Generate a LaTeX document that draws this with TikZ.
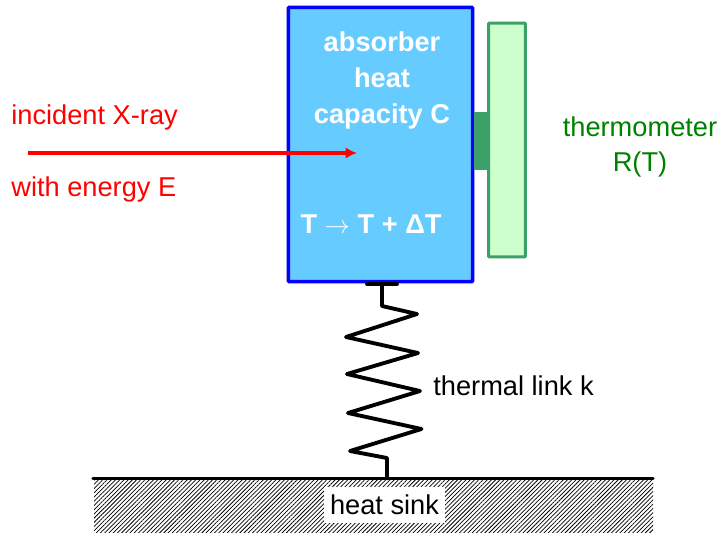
\documentclass[tikz,border=0pt]{standalone}
\usepackage{fontspec}
\setmainfont{Liberation Sans}
\usetikzlibrary{positioning}
\usetikzlibrary{arrows.meta}
\usetikzlibrary{patterns.meta}
\definecolor{absorberblue}{RGB}{102,204,255}
\definecolor{thermogreen}{RGB}{60,160,105}
\definecolor{thermolight}{RGB}{204,255,204}
\definecolor{labelgreen}{RGB}{0,128,0}
\tikzset{
  label text/.style={font=\fontsize{15.5pt}{19.5pt}\selectfont, inner sep=0pt, align=center},
  white text/.style={label text, text=white, font=\fontsize{15.5pt}{20.5pt}\selectfont\bfseries},
  spring line/.style={black, line width=2.2pt, line join=round, line cap=round}
}
\begin{document}
\begin{tikzpicture}[x=0.02cm, y=-0.02cm]
\useasboundingbox (0,0) rectangle (721,532);
%heat sink
\fill[pattern={Lines[angle=45,distance=1.7pt,line width=0.42pt]}, pattern color=black] (94,480) rectangle (653,532);
\coordinate (sinkleft) at (93,478.5);
\coordinate (sinkright) at (653,478.5);
\coordinate (sinktop) at (387,478.5);
\draw[black, line width=1.9pt, line cap=round] (sinkleft) -- (sinkright);
\node[label text, fill=white, minimum width=69pt, minimum height=20.5pt] (sink) at (384.5,505) {heat sink};
%thermometer
\node[draw=thermogreen, fill=thermolight, line width=1.7pt, rounded corners=0.5pt, minimum width=21pt, minimum height=133pt, inner sep=0pt] (thermo) at (507,140) {};
%absorber
\node[draw=blue, fill=absorberblue, line width=2pt, rounded corners=0.5pt, minimum width=105pt, minimum height=156pt, inner sep=0pt] (absorber) at (380.5,144.5) {};
%contact
\node[fill=thermogreen, minimum width=8.5pt, minimum height=33pt, inner sep=0pt] (contact) at (481,141) {};
%labels
\node[white text] (abslabel) at (382,80.5) {absorber\\heat\\capacity C};
\node[white text] (templabel) at (371,224) {T $\rightarrow$ T + ΔT};
\node[label text, text=red, anchor=west] (xray) at (11,117) {incident X-ray};
\node[label text, text=red, anchor=west] (energy) at (11,189) {with energy E};
\node[label text, text=labelgreen] (thermolabel) at (640,147) {thermometer\\R(T)};
\node[label text, anchor=west] (linklabel) at (433,386) {thermal link k};
%arrow
\coordinate (arrowstart) at (28,153);
\coordinate (arrowend) at (357,153);
\draw[red, line width=1.8pt, -{Latex[length=6.5pt,width=6.5pt]}] (arrowstart) -- (arrowend);
%spring
\coordinate (barleft) at (367,284);
\coordinate (barright) at (397,284);
\coordinate (bartop) at (382,284);
\draw[spring line] (barleft) -- (barright);
\draw[spring line] (bartop) -- (382,306) -- (417,314) -- (346,337) -- (418,353) -- (347,374) -- (420,391) -- (348,413) -- (421.5,429) -- (350,451) -- (387,458) -- (sinktop);
\end{tikzpicture}
\end{document}
